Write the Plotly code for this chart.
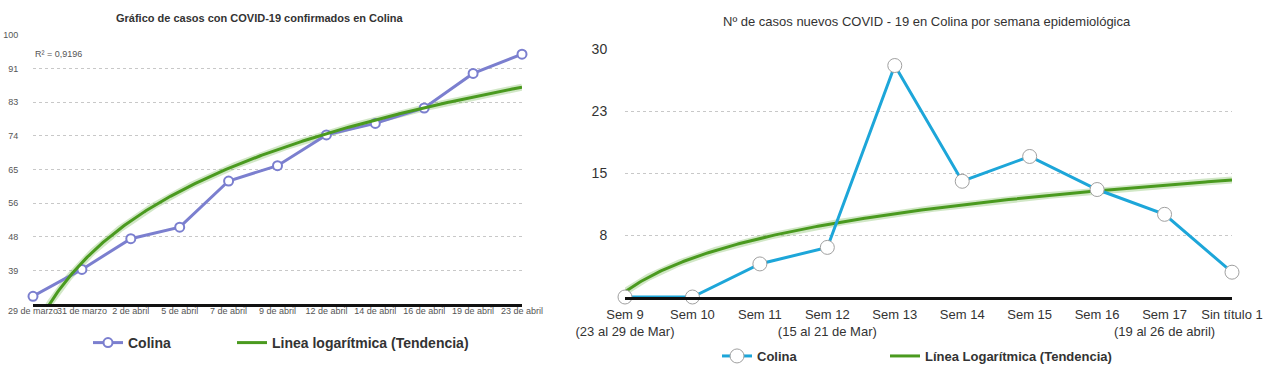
import numpy as np
import plotly.graph_objects as go

# ---- Left chart data ----
left_dates = ["29 de marzo", "31 de marzo", "2 de abril", "5 de abril", "7 de abril",
              "9 de abril", "12 de abril", "14 de abril", "16 de abril", "19 de abril", "23 de abril"]
left_cases = [32, 39, 47, 50, 62, 66, 74, 77, 81, 90, 95]
left_ytickvals = [38.75, 47.5, 56.25, 65, 73.75, 82.5, 91.25, 100]
left_yticktext = ["39", "48", "56", "65", "74", "83", "91", "100"]
left_r2 = "R² = 0,9196"

# ---- Right chart data ----
right_weeks = ["Sem 9<br>(23 al 29 de Mar)", "Sem 10", "Sem 11", "Sem 12<br>(15 al 21 de Mar)", "Sem 13",
               "Sem 14", "Sem 15", "Sem 16", "Sem 17<br>(19 al 26 de abril)", "Sin título 1"]
right_cases = [0, 0, 4, 6, 28, 14, 17, 13, 10, 3]
right_ytickvals = [7.5, 15, 22.5, 30]
right_yticktext = ["8", "15", "23", "30"]


def log_fit(values, n=300):
    y = np.asarray(values, dtype=float)
    idx = np.arange(1, len(y) + 1)
    b, a = np.polyfit(np.log(idx), y, 1)
    t = np.linspace(1, len(y), n)
    return t - 1, a + b * np.log(t)


FONT = "Liberation Sans, Arial, sans-serif"
GREEN = "#4a9a1f"
PURPLE = "#7b7fcf"
BLUE = "#1da6d9"
GLOW = "rgba(90,170,50,0.28)"

fig = go.Figure()

# left
lx = list(range(len(left_cases)))
tx, ty = log_fit(left_cases)
fig.add_trace(go.Scatter(x=tx, y=ty, mode="lines", line=dict(color=GLOW, width=7),
                         hoverinfo="skip", showlegend=False, xaxis="x", yaxis="y"))
fig.add_trace(go.Scatter(x=lx, y=left_cases, mode="lines+markers", name="Colina",
                         line=dict(color=PURPLE, width=3),
                         marker=dict(size=9, color="white", line=dict(color=PURPLE, width=2)),
                         cliponaxis=False, xaxis="x", yaxis="y", legend="legend"))
fig.add_trace(go.Scatter(x=tx, y=ty, mode="lines", name="Linea logarítmica (Tendencia)",
                         line=dict(color=GREEN, width=3), xaxis="x", yaxis="y", legend="legend2"))

# right
rx = list(range(len(right_cases)))
tx2, ty2 = log_fit(right_cases)
fig.add_trace(go.Scatter(x=tx2, y=ty2, mode="lines", line=dict(color=GLOW, width=7),
                         hoverinfo="skip", showlegend=False, xaxis="x2", yaxis="y2"))
fig.add_trace(go.Scatter(x=tx2, y=ty2, mode="lines", name="Línea Logarítmica (Tendencia)",
                         line=dict(color=GREEN, width=3), xaxis="x2", yaxis="y2", legend="legend4"))
fig.add_trace(go.Scatter(x=rx, y=right_cases, mode="lines+markers", name="Colina",
                         line=dict(color=BLUE, width=3),
                         marker=dict(size=14, color="white", line=dict(color="#a0a0a0", width=1)),
                         cliponaxis=False, xaxis="x2", yaxis="y2", legend="legend3"))

W, H = 1280, 370
def px_x(p): return p / W
def px_y(p): return (H - p) / H

grid = dict(showgrid=True, gridcolor="#c8c8c8", griddash="dot", gridwidth=1)


def leg(x_px, y_px, size):
    return dict(orientation="h", x=px_x(x_px), y=px_y(y_px), xanchor="left", yanchor="middle",
                font=dict(size=size, color="#333", family=FONT, weight="bold"),
                bgcolor="rgba(0,0,0,0)", borderwidth=0)


fig.update_layout(
    width=W, height=H, margin=dict(l=0, r=0, t=0, b=0, pad=0, autoexpand=False),
    paper_bgcolor="white", plot_bgcolor="white",
    font=dict(family=FONT, color="#333"),
    xaxis=dict(domain=[px_x(33), px_x(522)], range=[0, len(left_cases) - 1], automargin=False,
               tickvals=lx, ticktext=left_dates, tickangle=0, showgrid=False, zeroline=False,
               showline=True, linecolor="#111", linewidth=3,
               tickfont=dict(size=9, color="#555"), ticks="", ticklabelstandoff=-4),
    yaxis=dict(domain=[1 - 304 / H, 1 - 35 / H], range=[30, 100], tickvals=left_ytickvals, automargin=False,
               ticktext=left_yticktext, zeroline=False, showline=False,
               tickfont=dict(size=9, color="#555"), ticks="outside", ticklen=12,
               tickcolor="rgba(0,0,0,0)", **grid),
    xaxis2=dict(domain=[px_x(625), px_x(1232)], range=[0, len(right_cases) - 1], automargin=False,
                tickvals=rx, ticktext=right_weeks, tickangle=0, showgrid=False, zeroline=False,
                showline=True, linecolor="#111", linewidth=3,
                tickfont=dict(size=13, color="#333"), ticks="outside", ticklen=3,
                tickcolor="rgba(0,0,0,0)", anchor="y2"),
    yaxis2=dict(domain=[1 - 297 / H, 1 - 49 / H], range=[0, 30], tickvals=right_ytickvals, automargin=False,
                ticktext=right_yticktext, zeroline=False, showline=False, anchor="x2",
                tickfont=dict(size=14, color="#333"), ticks="outside", ticklen=14,
                tickcolor="rgba(0,0,0,0)", **grid),
    legend=leg(88, 343, 14),
    legend2=leg(232, 343, 14),
    legend3=leg(717, 356, 13),
    legend4=leg(885, 356, 13),
    annotations=[
        dict(text="Gráfico de casos con COVID-19 confirmados en Colina", x=px_x(260), y=px_y(18),
             xref="paper", yref="paper", showarrow=False, xanchor="center", yanchor="middle",
             font=dict(size=11, color="#333", family=FONT, weight="bold")),
        dict(text="Nº de casos nuevos COVID - 19 en Colina por semana epidemiológica", x=px_x(927),
             y=px_y(22), xref="paper", yref="paper", showarrow=False, xanchor="center",
             yanchor="middle", font=dict(size=13, color="#333", family=FONT)),
        dict(text=left_r2, x=px_x(33), y=px_y(54), xref="paper", yref="paper", showarrow=False,
             xanchor="left", yanchor="middle", font=dict(size=9, color="#555", family=FONT)),
    ],
)

fig.write_html("out.html", config={"displayModeBar": False},
               post_script="document.body.style.margin='0';document.body.style.overflow='hidden';")
